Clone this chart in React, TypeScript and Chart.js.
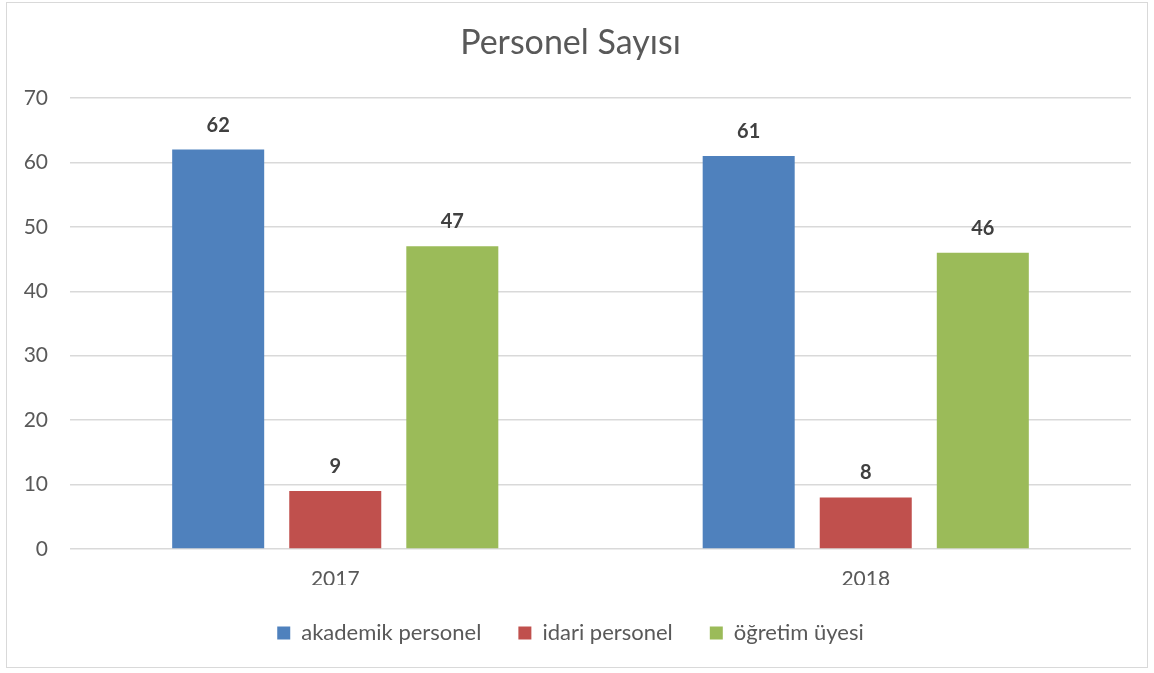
import React, { useEffect, useRef } from "react";
import { Chart, registerables } from "chart.js";

Chart.register(...registerables);

const categories = ["2017", "2018"];
const akademik = [62, 61];
const idari = [9, 8];
const ogretim = [47, 46];
const seriesNames = ["akademik personel", "idari personel", "öğretim üyesi"];
const seriesColors = ["#4F81BD", "#C0504D", "#9BBB59"];
const yTicksMax = 70;
const titleText = "Personel Sayısı";

const FONT = "Lato, 'Open Sans', sans-serif";

const borderPlugin = {
  id: "outerBorder",
  beforeDraw(chart: any) {
    const ctx = chart.ctx;
    ctx.save();
    ctx.fillStyle = "#ffffff";
    ctx.fillRect(0, 0, chart.width, chart.height);
    ctx.strokeStyle = "#d9d9d9";
    ctx.lineWidth = 1;
    ctx.strokeRect(6.5, 2.5, 1141, 665);
    ctx.restore();
  },
};

const labelPlugin = {
  id: "valueLabels",
  afterDatasetsDraw(chart: any) {
    const ctx = chart.ctx;
    ctx.save();
    ctx.font = `bold 20px ${FONT}`;
    ctx.fillStyle = "#404040";
    ctx.textAlign = "center";
    ctx.textBaseline = "alphabetic";
    chart.data.datasets.forEach((ds: any, i: number) => {
      const meta = chart.getDatasetMeta(i);
      meta.data.forEach((bar: any, j: number) => {
        ctx.fillText(String(ds.data[j]), bar.x, bar.y - 18);
      });
    });
    ctx.restore();
  },
};

export default function App() {
  const ref = useRef<HTMLCanvasElement>(null);
  useEffect(() => {
    if (!ref.current) return;
    const chart = new Chart(ref.current, {
      type: "bar",
      data: {
        labels: categories,
        datasets: [akademik, idari, ogretim].map((d, i) => ({
          label: seriesNames[i],
          data: d,
          backgroundColor: seriesColors[i],
          categoryPercentage: 0.662,
          barPercentage: 0.786,
        })),
      },
      options: {
        animation: false,
        responsive: false,
        devicePixelRatio: 1,
        layout: { padding: { top: 12, left: 10, right: 23, bottom: 19 } },
        plugins: {
          title: {
            display: true,
            text: titleText,
            color: "#595959",
            font: { family: FONT, size: 34, weight: "normal" },
            padding: { top: 11, bottom: 34.2 },
          },
          legend: {
            position: "bottom",
            labels: {
              color: "#595959",
              font: { family: FONT, size: 22 },
              boxWidth: 13,
              boxHeight: 13,
              padding: 37,
            },
          },
          tooltip: { enabled: false },
        },
        scales: {
          x: {
            grid: { display: false, drawTicks: false },
            border: { display: false },
            ticks: { color: "#595959", font: { family: FONT, size: 21 }, padding: 18 },
            afterFit(scale: any) {
              scale.height = 36;
            },
          },
          y: {
            min: 0,
            max: yTicksMax,
            ticks: { stepSize: 10, color: "#595959", font: { family: FONT, size: 21 }, padding: 22 },
            grid: { color: "#d9d9d9", drawTicks: false, lineWidth: 1.5 },
            border: { display: false },
            afterFit(scale: any) {
              scale.width = 60;
            },
          },
        },
      },
      plugins: [borderPlugin, labelPlugin],
    } as any);
    return () => chart.destroy();
  }, []);
  return (
    <div style={{ position: "absolute", left: 0, top: 0, width: 1154, height: 673 }}>
      <canvas ref={ref} width={1154} height={673} style={{ display: "block" }} />
    </div>
  );
}
